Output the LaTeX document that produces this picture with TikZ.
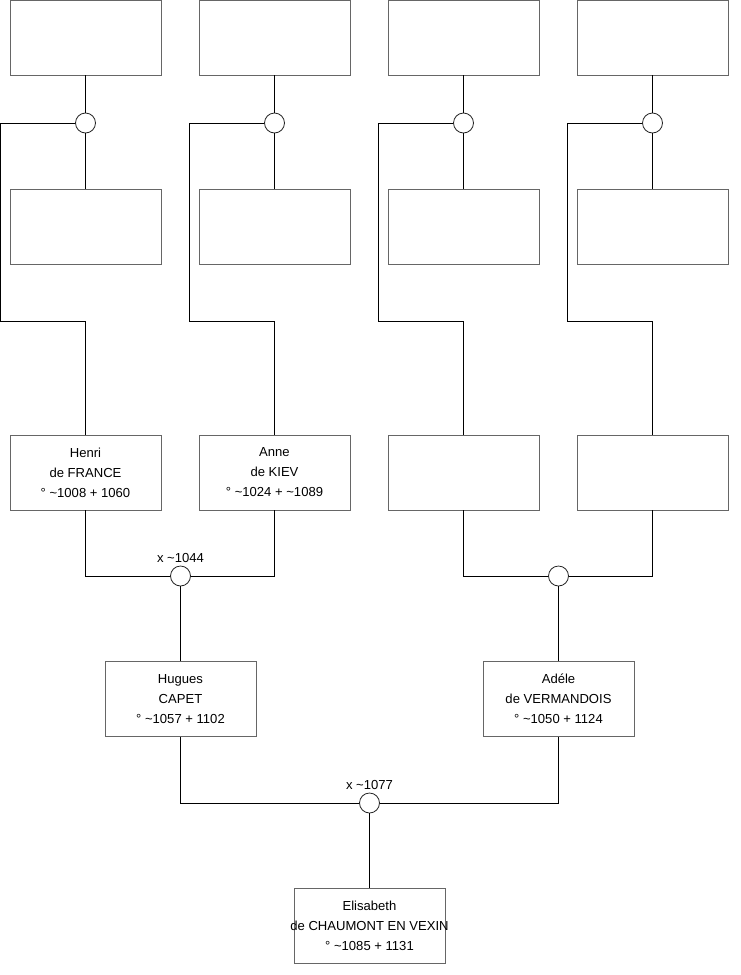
\documentclass[tikz,border=0pt]{standalone}
\usepackage{fontspec}
\setmainfont{Liberation Sans}

\tikzset{
    person/.style={draw=black!60, line width=0.7pt, minimum width=113.25pt, minimum height=56.25pt,
        inner sep=0pt, align=center, font=\fontsize{9.8}{15}\selectfont},
    union/.style={circle, draw=black!85, line width=0.6pt, fill=white, minimum size=15pt, inner sep=0pt},
    link/.style={line width=0.6pt},
    year/.style={font=\fontsize{9.8}{11}\selectfont, inner sep=1pt, above=0.8pt}
}

\begin{document}
\begin{tikzpicture}[x=0.75pt, y=-0.75pt]
        \useasboundingbox (0,0) rectangle (740,975);

        % grand-parents and great-grand-parents
        \foreach \i/\x in {1/85.5, 2/274.5, 3/463.5, 4/652.5} {
            \node[person] (a\i) at (\x,37.5) {};
            \node[person] (b\i) at (\x,227) {};
            \node[union] (c\i) at (\x,123) {};
        }

        % parents of the couple
        \node[person] (henri) at (85.5,472.5) {Henri\\de FRANCE\\° \textasciitilde1008 + 1060};
        \node[person] (anne) at (274.5,472.5) {Anne\\de KIEV\\° \textasciitilde1024 + \textasciitilde1089};
        \node[person] (r3) at (463.5,472.5) {};
        \node[person] (r4) at (652.5,472.5) {};

        \node[union] (m1) at (180.5,576) {};
        \node[union] (m2) at (558.5,576) {};
        \node[year] at (m1.north) {x \textasciitilde1044};

        \node[person] (hugues) at (180.5,699) {Hugues\\CAPET\\° \textasciitilde1057 + 1102};
        \node[person] (adele) at (558.5,699) {Adéle\\de VERMANDOIS\\° \textasciitilde1050 + 1124};

        \node[union] (m3) at (369.5,803) {};
        \node[year] at (m3.north) {x \textasciitilde1077};

        % the long name runs over the box edges
        \node[person] (elisabeth) at (369.5,926) {Elisabeth\\\makebox[0pt]{de CHAUMONT EN VEXIN}\\° \textasciitilde1085 + 1131};

        % connectors
        \foreach \i/\r in {1/henri, 2/anne, 3/r3, 4/r4} {
            \draw[link] (a\i.south) -- (c\i.north);
            \draw[link] (c\i.south) -- (b\i.north);
            \draw[link] (c\i.west) -| ++(-75,198) -| (\r.north);
        }
        \draw[link] (henri.south) |- (m1.west);
        \draw[link] (anne.south) |- (m1.east);
        \draw[link] (m1.south) -- (hugues.north);
        \draw[link] (r3.south) |- (m2.west);
        \draw[link] (r4.south) |- (m2.east);
        \draw[link] (m2.south) -- (adele.north);
        \draw[link] (hugues.south) |- (m3.west);
        \draw[link] (adele.south) |- (m3.east);
        \draw[link] (m3.south) -- (elisabeth.north);

    \end{tikzpicture}
\end{document}
